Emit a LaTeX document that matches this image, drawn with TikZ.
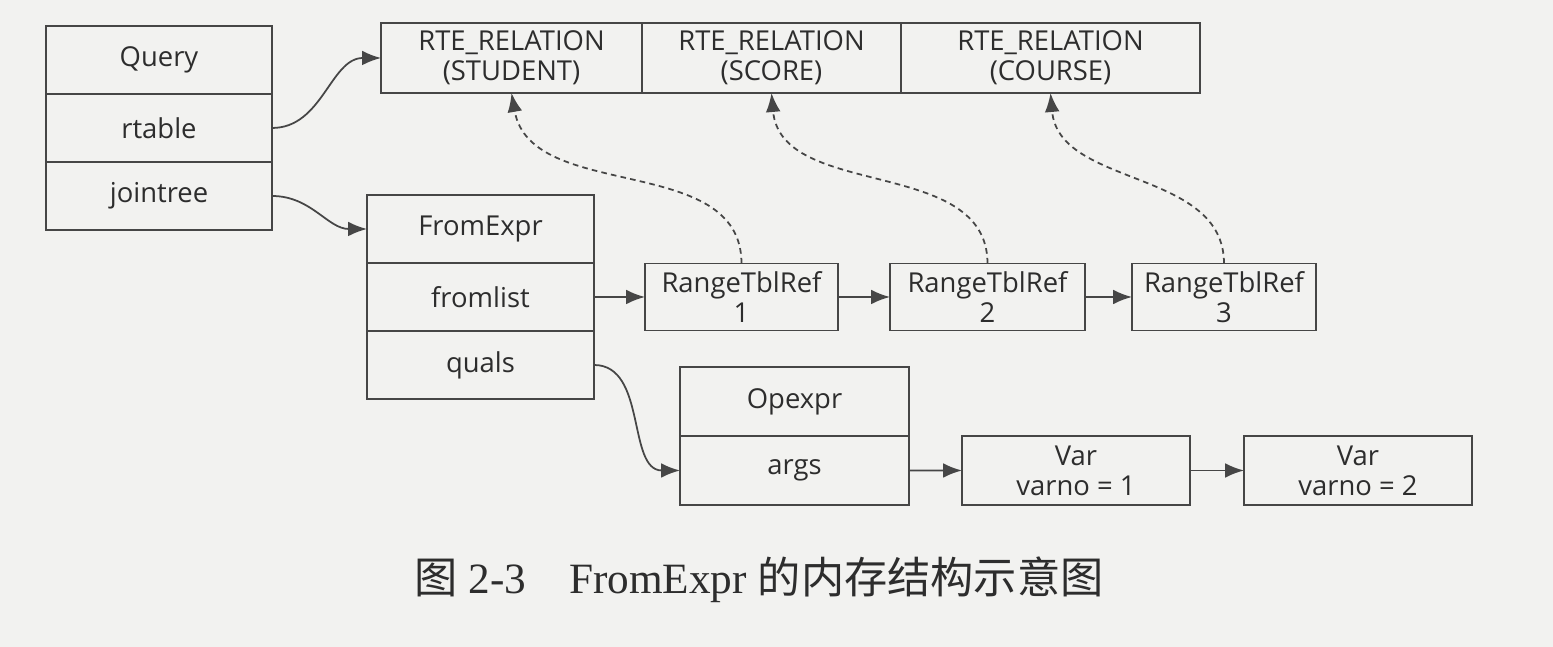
\documentclass[tikz,border=0pt]{standalone}
\usepackage{fontspec}
\setmainfont{Liberation Serif}
\newfontfamily\boxfont{Open Sans}
\newfontfamily\cjk{Noto Sans CJK SC}
\usepackage{tikz}
\usetikzlibrary{positioning,arrows.meta}
\definecolor{paper}{RGB}{242,242,240}
\definecolor{ink}{RGB}{70,70,70}
\definecolor{txt}{RGB}{45,45,45}

\begin{document}
\begin{tikzpicture}[>={Latex[length=5.4pt,width=4.2pt]},
    cell/.style={draw=ink,line width=0.5pt,rectangle,outer sep=0pt,inner sep=0pt,
      minimum height=0.68cm,align=center,text=txt,
      font=\boxfont\fontsize{7.8}{8.6}\selectfont},
    link/.style={->,draw=ink,line width=0.5pt},
    ref/.style={link,dash pattern=on 1.6pt off 1.2pt}]
              \fill[paper] (0,0) rectangle (15.53,6.47);
              \useasboundingbox (0,0) rectangle (15.53,6.47);

              % Query
              \node[cell,minimum width=2.26cm] (query) at (1.59,5.87) {Query};
              \node[cell,minimum width=2.26cm,below=0pt of query] (rtable) {rtable};
              \node[cell,minimum width=2.26cm,below=0pt of rtable] (jointree) {jointree};

              % range table
              \node[cell,minimum width=2.61cm,minimum height=0.70cm] (rte1) at (5.115,5.89) {RTE\_RELATION\\(STUDENT)};
              \node[cell,minimum width=2.59cm,minimum height=0.70cm,right=0pt of rte1] (rte2) {RTE\_RELATION\\(SCORE)};
              \node[cell,minimum width=2.99cm,minimum height=0.70cm,right=0pt of rte2] (rte3) {RTE\_RELATION\\(COURSE)};

              % FromExpr
              \node[cell,minimum width=2.27cm] (fromexpr) at (4.805,4.18) {FromExpr};
              \node[cell,minimum width=2.27cm,below=0pt of fromexpr] (fromlist) {fromlist};
              \node[cell,minimum width=2.27cm,below=0pt of fromlist] (quals) {quals};

              \node[cell,minimum width=1.93cm,minimum height=0.67cm] (rtr1) at (7.415,3.50) {RangeTblRef\\1};
              \node[cell,minimum width=1.95cm,minimum height=0.67cm] (rtr2) at (9.875,3.50) {RangeTblRef\\2};
              \node[cell,minimum width=1.84cm,minimum height=0.67cm] (rtr3) at (12.24,3.50) {RangeTblRef\\3};

              % Opexpr
              \node[cell,minimum width=2.29cm,minimum height=0.69cm] (opexpr) at (7.945,2.455) {Opexpr};
              \node[cell,minimum width=2.29cm,minimum height=0.69cm,below=0pt of opexpr] (args) {args};
              \node[cell,minimum width=2.28cm,minimum height=0.69cm] (var1) at (10.76,1.765) {Var\\varno = 1};
              \node[cell,minimum width=2.28cm,minimum height=0.69cm] (var2) at (13.58,1.765) {Var\\varno = 2};

              \draw[link] (rtable.east) to[out=0,in=180] (rte1.west);
              \draw[link] (jointree.east) to[out=0,in=180] (fromexpr.west);
              \draw[link] (fromlist) -- (rtr1);
              \draw[link] (rtr1) -- (rtr2);
              \draw[link] (rtr2) -- (rtr3);
              \draw[link] (quals.east) to[out=0,in=180] (args.west);
              \draw[link] (args) -- (var1);
              \draw[link] (var1) -- (var2);
              \draw[ref] (rtr1.north) to[out=90,in=-80] (rte1.south);
              \draw[ref] (rtr2.north) to[out=90,in=-85] (rte2.south);
              \draw[ref] (rtr3.north) to[out=90,in=-85] (rte3.south);

              \node[text=txt,font=\fontsize{12.3}{14}\selectfont] (caption) at (7.59,0.67)
                {{\cjk 图}~2-3\hspace{1em}FromExpr~{\cjk 的内存结构示意图}};
            \end{tikzpicture}
\end{document}
